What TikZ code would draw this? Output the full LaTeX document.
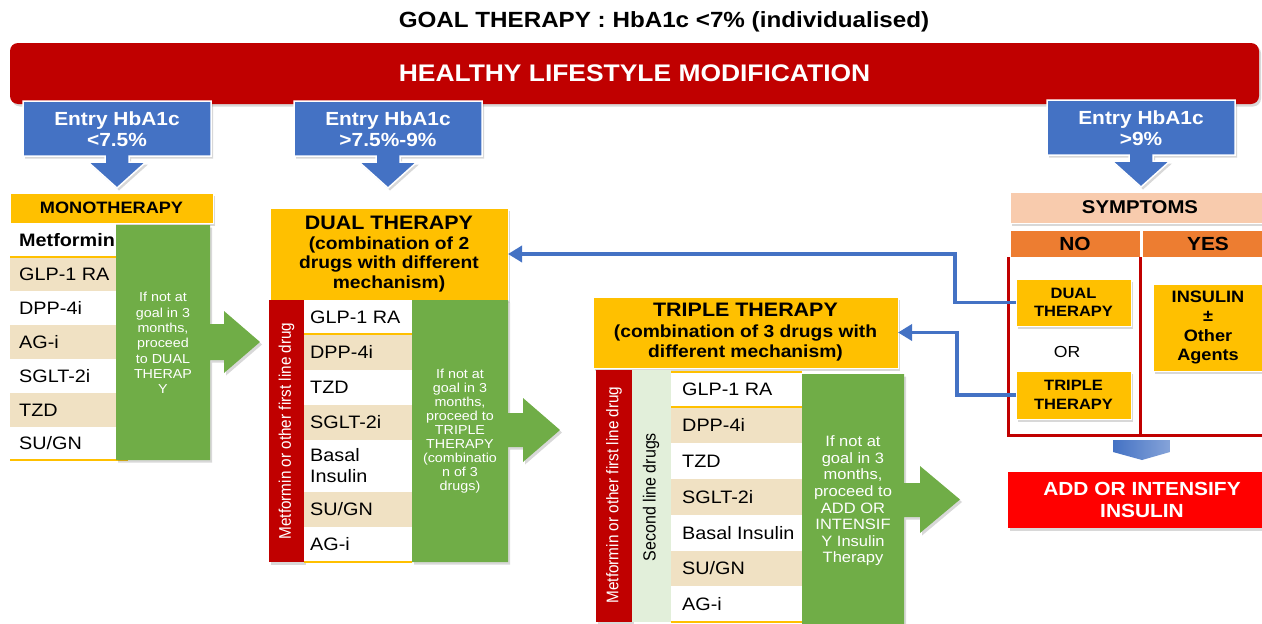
\documentclass[tikz,border=0pt]{standalone}
\usepackage{fontspec}
\usepackage{graphicx}
\setmainfont{Liberation Sans}[FakeStretch=1.1]
\newfontfamily\plainsans{Liberation Sans}
\usetikzlibrary{shadows,arrows.meta}
\definecolor{darkred}{HTML}{C00000}
\definecolor{callblue}{HTML}{4472C4}
\definecolor{gold}{HTML}{FFC000}
\definecolor{grn}{HTML}{70AD47}
\definecolor{tanrow}{HTML}{F0E1C3}
\definecolor{peach}{HTML}{F8CBAD}
\definecolor{orng}{HTML}{ED7D31}
\definecolor{paleg}{HTML}{E2EFDA}
\definecolor{brightred}{HTML}{FF0000}
\newcommand\fsz[2]{\fontsize{#1}{#2}\selectfont}
% box node from corners
\newcommand\bx[7]{\node[#6, inner sep=0pt, outer sep=0pt, align=center,
  minimum width=#4pt-#2pt, minimum height=#5pt-#3pt] (#1) at ({(#2+#4)/2},{(#3+#5)/2}) {#7};}
% drug row
\newcommand\drug[8]{\fill[#6] (#2,#4) rectangle (#3,#5);
  \node[drugtxt] (#1) at (#7,{(#4+#5)/2}) {#8};}
% blue callout
\newcommand\callout[4]{%
  \fill[callblue, draw=white, line width=1.5pt, shad]
   (#2-94,#3) -- (#2+94,#3) -- (#2+94,#3+55) -- (#2+12,#3+55) -- (#2+12,#3+61)
   -- (#2+29,#3+61) -- (#2,#3+87) -- (#2-29,#3+61) -- (#2-12,#3+61)
   -- (#2-12,#3+55) -- (#2-94,#3+55) -- cycle;
  \node[calltxt] (#1) at (#2,#3+28) {#4};}
\begin{document}
\begin{tikzpicture}[x=1pt,y=-1pt,
  shad/.style={drop shadow={shadow xshift=2pt,shadow yshift=-2.5pt,opacity=0.22,fill=black!70}},
  drugtxt/.style={anchor=west, inner sep=0pt, align=left, font=\fsz{18}{21}},
  calltxt/.style={text=white, align=center, font=\bfseries\fsz{19}{21}},
  greentxt/.style={text=white, align=center},
  goldbox/.style={fill=gold, draw=white, line width=0.8pt, shad},
  rowline/.style={draw=gold, line width=1.5pt},
  conn/.style={draw=callblue, line width=3.5pt, -{Triangle[length=14pt,width=16pt]}},
  vtxt/.style={rotate=90, inner sep=0pt}
]
\useasboundingbox (0,0) rectangle (1262,624);
\clip (0,0) rectangle (1262,624);

% title
\node[font=\bfseries\fsz{22}{24}] (title) at (664,22) {GOAL THERAPY : HbA1c <7\% (individualised)};

% banner
\bx{banner}{10}{43}{1259}{104}{fill=darkred, rounded corners=8pt, shad, text=white, font=\bfseries\fsz{24}{26}}{HEALTHY LIFESTYLE MODIFICATION}

% callouts
\callout{entry1}{117}{101}{Entry HbA1c\\<7.5\%}
\callout{entry2}{388}{101}{Entry HbA1c\\>7.5\%-9\%}
\callout{entry3}{1141}{100}{Entry HbA1c\\>9\%}

% ---------------- MONOTHERAPY ----------------
\bx{mono}{10}{193}{213}{223}{goldbox, font=\bfseries\fsz{16.5}{18}}{MONOTHERAPY}
\drug{m0}{10}{116}{223}{257}{white}{19}{\bfseries Metformin}
\drug{m1}{10}{116}{257}{291}{tanrow}{19}{GLP-1 RA}
\drug{m2}{10}{116}{291}{325}{white}{19}{DPP-4i}
\drug{m3}{10}{116}{325}{359}{tanrow}{19}{AG-i}
\drug{m4}{10}{116}{359}{393}{white}{19}{SGLT-2i}
\drug{m5}{10}{116}{393}{427}{tanrow}{19}{TZD}
\drug{m6}{10}{116}{427}{460}{white}{19}{SU/GN}
\draw[rowline] (10,257) -- (116,257);
\draw[rowline] (10,460) -- (128,460);
\fill[grn, shad] (116,225) -- (210,225) -- (210,324) -- (224,324) -- (224,311)
  -- (260,342) -- (224,373) -- (224,360) -- (210,360) -- (210,460) -- (116,460) -- cycle;
\node[greentxt, font=\fsz{13}{15.3}] (g1) at (163,343)
  {If not at\\goal in 3\\months,\\proceed\\to DUAL\\THERAP\\Y};

% ---------------- DUAL THERAPY ----------------
\bx{dualh}{270}{208}{508}{300}{goldbox, font=\bfseries\fsz{17.5}{19.5}}
  {{\fsz{19.5}{20}DUAL THERAPY}\\(combination of 2\\drugs with different\\mechanism)}
\fill[darkred, shad] (269,300) rectangle (304,562);
\node[vtxt, text=white] (d1) at (286.5,431)
  {\plainsans\fsz{15.3}{17}\scalebox{1}[1.1]{Metformin or other first line drug}};
\drug{dr0}{304}{412}{300}{334}{white}{310}{GLP-1 RA}
\drug{dr1}{304}{412}{334}{370}{tanrow}{310}{DPP-4i}
\drug{dr2}{304}{412}{370}{405}{white}{310}{TZD}
\drug{dr3}{304}{412}{405}{440}{tanrow}{310}{SGLT-2i}
\drug{dr4}{304}{412}{440}{492}{white}{310}{Basal\\Insulin}
\drug{dr5}{304}{412}{492}{527}{tanrow}{310}{SU/GN}
\drug{dr6}{304}{412}{527}{562}{white}{310}{AG-i}
\draw[rowline] (304,334) -- (412,334);
\draw[rowline] (304,562) -- (412,562);
\fill[grn, shad] (412,300) -- (508,300) -- (508,413) -- (523,413) -- (523,398)
  -- (560,430) -- (523,462) -- (523,447) -- (508,447) -- (508,562) -- (412,562) -- cycle;
\node[greentxt, font=\fsz{13}{14}] (g2) at (460,431)
  {If not at\\goal in 3\\months,\\proceed to\\TRIPLE\\THERAPY\\(combinatio\\n of 3\\drugs)};

% ---------------- TRIPLE THERAPY ----------------
\bx{triph}{593}{297}{898}{368}{goldbox, font=\bfseries\fsz{17.5}{20.5}}
  {{\fsz{19.5}{20.5}TRIPLE THERAPY}\\(combination of 3 drugs with\\different mechanism)}
\fill[darkred, shad] (596,370) rectangle (632,622);
\fill[paleg] (632,370) rectangle (671,622);
\node[vtxt, text=white] (t1) at (614,495)
  {\plainsans\fsz{15.3}{17}\scalebox{1}[1.1]{Metformin or other first line drug}};
\node[vtxt, text=black] (t2) at (651,497)
  {\plainsans\fsz{16}{18}\scalebox{1}[1.1]{Second line drugs}};
\drug{tr0}{671}{802}{372}{407}{white}{682}{GLP-1 RA}
\drug{tr1}{671}{802}{407}{443}{tanrow}{682}{DPP-4i}
\drug{tr2}{671}{802}{443}{479}{white}{682}{TZD}
\drug{tr3}{671}{802}{479}{515}{tanrow}{682}{SGLT-2i}
\drug{tr4}{671}{802}{515}{551}{white}{682}{Basal Insulin}
\drug{tr5}{671}{802}{551}{586}{tanrow}{682}{SU/GN}
\drug{tr6}{671}{802}{586}{622}{white}{682}{AG-i}
\draw[rowline] (671,372) -- (802,372);
\draw[rowline] (671,407) -- (802,407);
\draw[rowline] (671,622) -- (802,622);
\fill[grn, shad] (802,374) -- (904,374) -- (904,483) -- (920,483) -- (920,466)
  -- (960,499.5) -- (920,533) -- (920,517) -- (904,517) -- (904,630) -- (802,630) -- cycle;
\node[greentxt, font=\fsz{15}{16.6}] (g3) at (853,501)
  {If not at\\goal in 3\\months,\\proceed to\\ADD OR\\INTENSIF\\Y Insulin\\Therapy};

% ---------------- SYMPTOMS ----------------
\bx{symp}{1010}{192}{1270}{223}{fill=peach, draw=white, line width=0.8pt, shad, font=\bfseries\fsz{18.5}{20}}{SYMPTOMS}
\bx{no}{1010}{230}{1140}{257}{fill=orng, draw=white, line width=0.8pt, font=\bfseries\fsz{19}{20}}{NO}
\bx{yes}{1142}{230}{1274}{257}{fill=orng, draw=white, line width=0.8pt, font=\bfseries\fsz{19}{20}}{YES}
\draw[darkred, line width=3pt] (1008,257) -- (1008,435) -- (1270,435);
\draw[darkred, line width=3pt] (1140,257) -- (1140,435);
\bx{duals}{1016}{279}{1131}{326}{goldbox, font=\bfseries\fsz{15}{18.5}}{DUAL\\THERAPY}
\node[font=\fsz{16}{18}] (or) at (1067,352) {OR};
\bx{trips}{1016}{371}{1131}{419}{goldbox, font=\bfseries\fsz{15}{18.5}}{TRIPLE\\THERAPY}
\bx{ins}{1153}{284}{1263}{371}{goldbox, font=\bfseries\fsz{16.5}{19.3}}{INSULIN\\\textpm\\Other\\Agents}

\draw[conn] (duals.west) -- ++(-61,0) |- (dualh.east);
\draw[conn] (trips.west) -- ++(-59,0) |- (triph.east);

\shade[left color=callblue, right color=callblue!65!white]
  (1113,440) -- (1170,440) -- (1170,452) -- (1142,460) -- (1113,452) -- cycle;
\bx{add}{1008}{472}{1276}{528}{fill=brightred, shad, text=white, font=\bfseries\fsz{19}{22}}{ADD OR INTENSIFY\\INSULIN}
\end{tikzpicture}
\end{document}
